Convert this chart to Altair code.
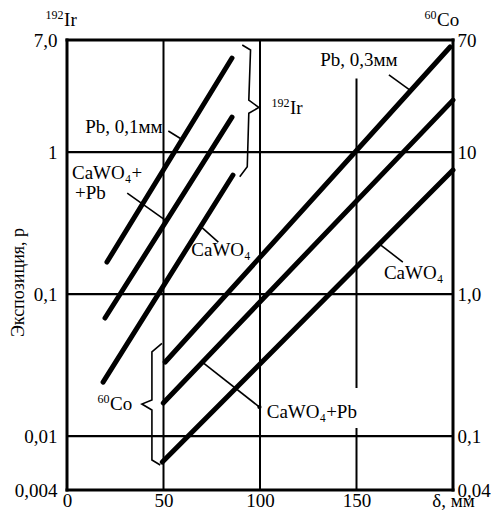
import altair as alt
import pandas as pd

FONT = "Liberation Serif"
FS = 19
FS_SUP = 12

# ---- axes -------------------------------------------------------------
X_MIN, X_MAX = 0, 200
Y_MIN, Y_MAX = 0.00417, 6.15

x_tick_values = [0, 50, 100, 150, 200]
x_tick_labels = ["0", "50", "100", "150", "δ, мм"]
y_tick_values = [Y_MIN, 0.01, 0.1, 1, Y_MAX]
y_left_labels = ["0,004", "0,01", "0,1", "1", "7,0"]
y_right_labels = ["0,04", "0,1", "1,0", "10", "70"]

# ---- grid lines ---------------------------------------------------------
grid_h = [0.01, 0.1, 1]
grid_v_x = [50, 100, 150, 150]
grid_v_lo = [Y_MIN, Y_MIN, 0.0218, Y_MIN]
grid_v_hi = [Y_MAX, Y_MAX, 3.3, 0.0114]

# ---- curves (192Ir group, then 60Co group) ------------------------------
curve_names = ["Ir Pb 0,1мм", "Ir CaWO4+Pb", "Ir CaWO4",
               "Co Pb 0,3мм", "Co CaWO4+Pb", "Co CaWO4"]
curve_d0 = [20.7, 19.7, 18.7, 50.9, 49.9, 49.4]
curve_d1 = [85.5, 85.5, 86.0, 198.5, 200.0, 200.0]
curve_e0 = [0.168, 0.0678, 0.0240, 0.0332, 0.0171, 0.00656]
curve_e1 = [4.59, 1.76, 0.689, 5.49, 2.32, 0.747]

# ---- leader lines ------------------------------------------------------
leader_d0 = [52.5, 31.2, 70.1, 166.8, 70.1, 162.6]
leader_d1 = [59.2, 50.9, 78.4, 177.7, 99.7, 174.0]
leader_e0 = [1.406, 0.514, 0.292, 3.49, 0.0332, 0.221]
leader_e1 = [1.235, 0.332, 0.232, 2.73, 0.0160, 0.168]
dot_d = [99.7]
dot_e = [0.0160]

# ---- braces -------------------------------------------------------------
ir_brace_d = [90.8, 95.1, 94.2, 99.4, 94.2, 93.4, 89.5]
ir_brace_e = [5.67, 5.23, 2.32, 2.06, 1.873, 0.788, 0.670]
co_brace_d = [49.2, 44.0, 44.0, 38.8, 44.0, 44.0, 48.3]
co_brace_e = [0.0450, 0.0392, 0.01794, 0.0168, 0.01524, 0.00678, 0.00625]

# ---- labels --------------------------------------------------------------
left_texts = ["CaWO₄+", "+Pb", "CaWO₄", "CaWO₄", "CaWO₄+Pb"]
left_d = [2.6, 4.1, 64.4, 164.2, 103.5]
left_e = [0.711, 0.514, 0.204, 0.1406, 0.01483]
right_texts = ["Pb, 0,1мм"]
right_d = [49.5]
right_e = [1.5]
center_texts = ["Pb, 0,3мм"]
center_d = [151.2]
center_e = [4.44]
# isotope labels: base symbol + superscript mass number
iso_symbols = ["Ir", "Co", "Ir", "Co"]
iso_mass = ["192", "60", "192", "60"]
iso_d = [-1.5, 191.7, 115.5, 22.3]
iso_e = [8.5, 8.5, 2.04, 0.0168]


def label_expr(values, labels):
    parts = [f"abs(datum.value - {v}) < {abs(v) * 1e-4 + 1e-9} ? '{l}'"
             for v, l in zip(values, labels)]
    return " : ".join(parts) + " : ''"


xscale = alt.Scale(domain=[X_MIN, X_MAX], nice=False, zero=False)
yscale = alt.Scale(type="log", domain=[Y_MIN, Y_MAX], nice=False)

x_axis = alt.Axis(values=x_tick_values, labelExpr=label_expr(x_tick_values, x_tick_labels),
                  title=None, grid=False, ticks=False, domain=False, labelFlush=False,
                  labelOverlap=False, labelFont=FONT, labelFontSize=FS, labelColor="black",
                  labelPadding=1)
y_axis_left = alt.Axis(values=y_tick_values, labelExpr=label_expr(y_tick_values, y_left_labels),
                       title="Экспозиция, р", titleFont=FONT, titleFontSize=18,
                       titleFontWeight="normal", titleColor="black", titleAngle=270,
                       titleX=-49, titleY=242, titleAlign="center", titleBaseline="middle",
                       grid=False, ticks=False, domain=False, labelOverlap=False,
                       labelFont=FONT, labelFontSize=FS, labelColor="black", labelPadding=10,
                       labelBaseline="middle")
y_axis_right = alt.Axis(values=y_tick_values, labelExpr=label_expr(y_tick_values, y_right_labels),
                        orient="right", title=None, grid=False, ticks=False, domain=False,
                        labelOverlap=False, labelFont=FONT, labelFontSize=FS,
                        labelColor="black", labelPadding=4, labelBaseline="middle")


def X(field):
    return alt.X(field, type="quantitative", scale=xscale, axis=x_axis)


def Y(field, axis=None):
    return alt.Y(field, type="quantitative", scale=yscale, axis=axis)


# horizontal grid
df_h = pd.DataFrame({"e": grid_h, "d0": [X_MIN] * len(grid_h), "d1": [X_MAX] * len(grid_h)})
h_layer = alt.Chart(df_h).mark_rule(color="black", strokeWidth=2.2).encode(
    x=X("d0"), x2="d1", y=Y("e", y_axis_left))

# vertical grid
df_v = pd.DataFrame({"d": grid_v_x, "e0": grid_v_lo, "e1": grid_v_hi})
v_layer = alt.Chart(df_v).mark_rule(color="black", strokeWidth=2).encode(
    x=X("d"), y=Y("e0"), y2="e1")

# frame
df_fh = pd.DataFrame({"e": [Y_MIN, Y_MAX], "d0": [X_MIN, X_MIN], "d1": [X_MAX, X_MAX]})
frame_h = alt.Chart(df_fh).mark_rule(color="black", strokeWidth=3, strokeCap="square").encode(
    x=X("d0"), x2="d1", y=Y("e"))
df_fv = pd.DataFrame({"d": [X_MIN, X_MAX], "e0": [Y_MIN, Y_MIN], "e1": [Y_MAX, Y_MAX]})
frame_v = alt.Chart(df_fv).mark_rule(color="black", strokeWidth=3, strokeCap="square").encode(
    x=X("d"), y=Y("e0", y_axis_right), y2="e1")

# curves
rows = []
for n, d0, d1, e0, e1 in zip(curve_names, curve_d0, curve_d1, curve_e0, curve_e1):
    rows.append({"name": n, "i": 0, "d": d0, "e": e0})
    rows.append({"name": n, "i": 1, "d": d1, "e": e1})
df_c = pd.DataFrame(rows)
curves = alt.Chart(df_c).mark_line(color="black", strokeWidth=5, strokeCap="round").encode(
    x=X("d"), y=Y("e"), detail="name:N", order="i:Q")

# leaders
rows = []
for k, (d0, d1, e0, e1) in enumerate(zip(leader_d0, leader_d1, leader_e0, leader_e1)):
    rows.append({"id": k, "i": 0, "d": d0, "e": e0})
    rows.append({"id": k, "i": 1, "d": d1, "e": e1})
df_l = pd.DataFrame(rows)
leaders = alt.Chart(df_l).mark_line(color="black", strokeWidth=1.6).encode(
    x=X("d"), y=Y("e"), detail="id:N", order="i:Q")

df_dot = pd.DataFrame({"d": dot_d, "e": dot_e})
dots = alt.Chart(df_dot).mark_point(filled=True, color="black", size=18, opacity=1).encode(
    x=X("d"), y=Y("e"))

# braces
rows = []
for i, (d, e) in enumerate(zip(ir_brace_d, ir_brace_e)):
    rows.append({"id": "ir", "i": i, "d": d, "e": e})
for i, (d, e) in enumerate(zip(co_brace_d, co_brace_e)):
    rows.append({"id": "co", "i": i, "d": d, "e": e})
df_b = pd.DataFrame(rows)
braces = alt.Chart(df_b).mark_line(color="black", strokeWidth=1.6, strokeJoin="miter").encode(
    x=X("d"), y=Y("e"), detail="id:N", order="i:Q")


def text_layer(texts, ds, es, align, size=FS, dy=0, dx=0):
    df = pd.DataFrame({"t": texts, "d": ds, "e": es})
    return alt.Chart(df).mark_text(font=FONT, fontSize=size, color="black", align=align,
                                   baseline="middle", dy=dy, dx=dx).encode(
        x=X("d"), y=Y("e"), text="t:N")


t_left = text_layer(left_texts, left_d, left_e, "left")
t_right = text_layer(right_texts, right_d, right_e, "right")
t_center = text_layer(center_texts, center_d, center_e, "center")
t_iso = text_layer(iso_symbols, iso_d, iso_e, "left")
t_iso_sup = text_layer(iso_mass, iso_d, iso_e, "right", size=FS_SUP, dy=-5, dx=-0.5)

chart = alt.layer(
    h_layer, v_layer, frame_h, frame_v, curves, leaders, dots, braces,
    t_left, t_right, t_center, t_iso, t_iso_sup
).resolve_scale(y="independent").properties(
    width=386, height=450,
    autosize=alt.AutoSizeParams(type="none"),
    padding={"left": 59, "top": 32, "right": 38, "bottom": 20},
    background="white",
).configure_view(stroke=None)

chart.save("out.html", embed_options={"renderer": "svg", "actions": False})
